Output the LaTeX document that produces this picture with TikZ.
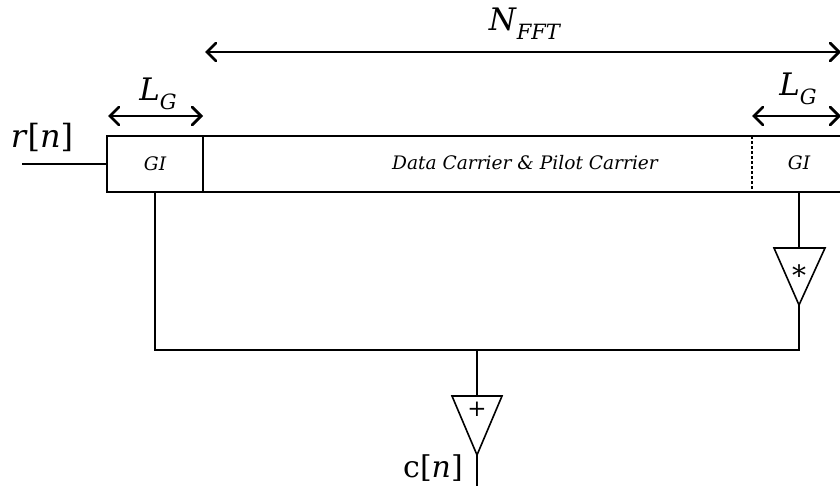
\documentclass[tikz,border=0pt]{standalone}
\usepackage{fontspec}
\setmainfont{DejaVu Serif}
\usetikzlibrary{arrows.meta}
% italic subscript for the span labels
\newcommand\lblsub[1]{\raisebox{-0.28em}{\fontsize{21}{24}\selectfont\textit{#1}}}
\begin{document}
\begin{tikzpicture}[x=1pt,y=-1pt,
  frame/.style={line width=1.9pt},
  wire/.style={line width=1.6pt},
  span/.style={line width=2.8pt,{Straight Barb[length=9pt,width=18pt,line cap=round]}-{Straight Barb[length=9pt,width=18pt,line cap=round]}},
  biglbl/.style={font=\fontsize{31}{34}\selectfont,inner sep=0pt},
  boxlbl/.style={font=\fontsize{18.6}{22}\selectfont\itshape},
  oplbl/.style={inner sep=0pt}]
\useasboundingbox (0,0) rectangle (840,495);
\clip (0,0) rectangle (840,495);

% frame corners and dividers
\coordinate (tl) at (107,136);
\coordinate (bl) at (107,192);
\coordinate (tr) at (850,136);
\coordinate (br) at (850,192);
\coordinate (d1t) at (203,136);
\coordinate (d1b) at (203,192);
\coordinate (d2t) at (752,136);
\coordinate (d2b) at (752,192);

\draw[frame] (tr) -- (tl) -- (bl) -- (br);
\draw[frame] (d1t) -- (d1b);
\draw[frame,dash pattern=on 3pt off 2pt,line width=1.3pt] (d2t) -- (d2b);

% field labels
\node[boxlbl] (gi1) at (155,164) {GI};
\node[boxlbl] (data) at (525,163) {Data Carrier \& Pilot Carrier};
\node[boxlbl] (gi2) at (799,163) {GI};

% span arrows
\coordinate (nA) at (205,52);
\coordinate (nB) at (841,52);
\draw[span] (nA) -- (nB);
\node[biglbl] (nfft) at (525,24) {\textit{N}\lblsub{FFT}};

\coordinate (lgA) at (108,116);
\coordinate (lgB) at (203,116);
\draw[span] (lgA) -- (lgB);
\node[biglbl] (lg1) at (158,94) {\textit{L}\lblsub{G}};

\coordinate (lgC) at (752,116);
\coordinate (lgD) at (841,116);
\draw[span] (lgC) -- (lgD);
\node[biglbl] (lg2) at (798,89) {\textit{L}\lblsub{G}};

% input
\node[biglbl,font=\fontsize{32}{36}\selectfont] (rn) at (42,137) {\textit{r}[\textit{n}]};
\coordinate (in) at (22,164);
\coordinate (inE) at (107,164);
\draw[wire] (in) -- (inE);

% conjugate branch
\coordinate (g2b) at (799,192);
\coordinate (mt) at (799,248);
\coordinate (ml) at (774,248);
\coordinate (mr) at (825,248);
\coordinate (ma) at (799,305);
\draw[wire] (g2b) -- (mt);
\draw[wire,line join=miter] (ml) -- (mr) -- (ma) -- cycle;
\node[oplbl,font=\fontsize{28}{30}\selectfont] (conj) at (799,275) {*};

% summing junction
\coordinate (g1b) at (155,192);
\coordinate (jl) at (155,350);
\coordinate (jr) at (799,350);
\coordinate (jm) at (477,350);
\draw[wire] (g1b) -- (jl) -- (jr) -- (ma);

\coordinate (st) at (477,396);
\coordinate (sl) at (452,396);
\coordinate (sr) at (502,396);
\coordinate (sa) at (477,455);
\coordinate (out) at (477,486);
\draw[wire] (jm) -- (st);
\draw[wire,line join=miter] (sl) -- (sr) -- (sa) -- cycle;
\draw[wire] (sa) -- (out);
\node[oplbl,font=\fontsize{23}{25}\selectfont] (sum) at (477,409) {+};

\node[biglbl,font=\fontsize{30}{34}\selectfont] (cn) at (433,468) {c[\textit{n}]};
\end{tikzpicture}
\end{document}
